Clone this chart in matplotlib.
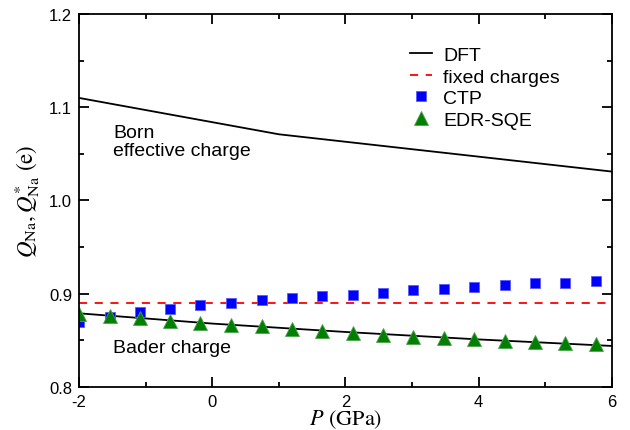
# Na charge vs pressure: DFT Born/Bader charges compared with model charges.
import matplotlib
matplotlib.use("Agg")
import matplotlib.pyplot as plt
from matplotlib.ticker import MultipleLocator, FormatStrFormatter

# DFT Born effective charge
born_p = [-2, -1, 0, 1, 2, 3, 4, 5, 6]
born_q = [1.110, 1.097, 1.084, 1.071, 1.063, 1.055, 1.047, 1.039, 1.031]

# DFT Bader charge
bader_p = [-2, 0, 2, 4, 6]
bader_q = [0.879, 0.868, 0.859, 0.851, 0.844]

# fixed-charge model
fixed_p = [-2, 6]
fixed_q = [0.890, 0.890]

# CTP and EDR-SQE model charges
model_p = [-2.00, -1.54, -1.09, -0.63, -0.18, 0.28, 0.74, 1.19, 1.65,
           2.11, 2.56, 3.02, 3.48, 3.93, 4.39, 4.85, 5.30, 5.76]
ctp_q = [0.870, 0.875, 0.880, 0.884, 0.888, 0.890, 0.893, 0.895, 0.898,
         0.899, 0.901, 0.904, 0.905, 0.907, 0.909, 0.911, 0.912, 0.914]
edr_q = [0.878, 0.876, 0.874, 0.871, 0.869, 0.867, 0.865, 0.862, 0.860,
         0.858, 0.856, 0.854, 0.852, 0.851, 0.849, 0.848, 0.847, 0.846]

plt.rcParams["font.family"] = ["Liberation Sans", "DejaVu Sans"]
plt.rcParams["mathtext.fontset"] = "stix"
plt.rcParams["axes.unicode_minus"] = False

fig = plt.figure(figsize=(6.3, 4.31), dpi=100)
ax = fig.add_axes([0.1254, 0.0998, 0.8460, 0.8654])

ax.plot(born_p, born_q, color="black", lw=1.3, label="DFT")
ax.plot(bader_p, bader_q, color="black", lw=1.3)
ax.plot(fixed_p, fixed_q, color="red", lw=1.3, dashes=(4.5, 4.2),
        label="fixed charges")
ax.plot(model_p, ctp_q, ls="none", marker="s", ms=6.8, color="#0000ff",
        mec="#5a5aff", mew=0.6, label="CTP")
ax.plot(model_p, edr_q, ls="none", marker="^", ms=9.8, color="#008000",
        mec="#50a050", mew=0.6, label="EDR-SQE")

ax.text(-1.49, 1.0684, "Born", fontsize=14)
ax.text(-1.49, 1.0488, "effective charge", fontsize=14)
ax.text(-1.49, 0.8379, "Bader charge", fontsize=14)

ax.set_xlim(-2, 6)
ax.set_ylim(0.8, 1.2)
ax.xaxis.set_major_locator(MultipleLocator(2))
ax.xaxis.set_minor_locator(MultipleLocator(1))
ax.yaxis.set_major_locator(MultipleLocator(0.1))
ax.yaxis.set_minor_locator(MultipleLocator(0.05))
ax.yaxis.set_major_formatter(FormatStrFormatter("%.1f"))
ax.tick_params(which="major", direction="in", top=True, right=True,
               labelsize=12, width=1.3, length=7.5, pad=5, color="black")
ax.tick_params(which="minor", direction="in", top=True, right=True,
               width=1.3, length=3.8, color="black")
for s in ax.spines.values():
    s.set_linewidth(1.3)

ax.set_xlabel(r"$P$ (GPa)", fontsize=16, family="STIXGeneral", labelpad=-1)
ax.set_ylabel(r"$Q_{\rm Na}, Q^{*}_{\rm Na}$ (e)", fontsize=16.5,
              family="STIXGeneral", labelpad=5)

ax.legend(loc="upper left", bbox_to_anchor=(0.621, 0.913), frameon=False,
          fontsize=14, borderpad=0, borderaxespad=0, handlelength=1.15,
          handletextpad=0.55, labelspacing=0.2, numpoints=1)

fig.savefig("out.png", dpi=100)
